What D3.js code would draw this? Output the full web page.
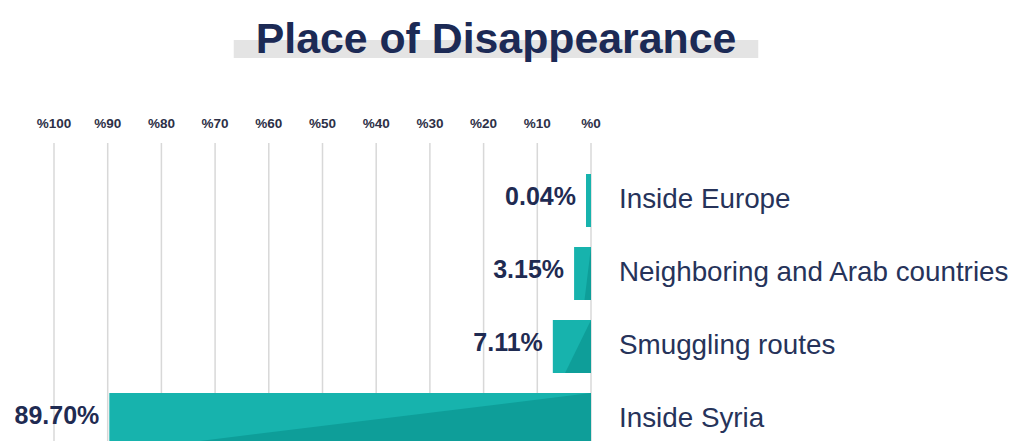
<!DOCTYPE html>
<html>
<head>
<meta charset="utf-8">
<script src="https://cdn.jsdelivr.net/npm/d3@7"></script>
<style>
  html, body { margin: 0; padding: 0; background: #ffffff; }
  svg { display: block; }
</style>
</head>
<body>
<svg id="chart" width="1015" height="441"></svg>
<script>
// Share of disappearances by place (percent)
const categories = ["Inside Europe", "Neighboring and Arab countries", "Smuggling routes", "Inside Syria"];
const shares = [0.04, 3.15, 7.11, 89.70];
const valueLabels = ["0.04%", "3.15%", "7.11%", "89.70%"];
const tickValues = [100, 90, 80, 70, 60, 50, 40, 30, 20, 10, 0];
const tickLabels = ["%100", "%90", "%80", "%70", "%60", "%50", "%40", "%30", "%20", "%10", "%0"];
const title = "Place of Disappearance";

const W = 1015, H = 441;
const navy = "#1c2a55";
const textNavy = "#26335a";
const tealLight = "#17b3ad";
const tealDark = "#0e9e99";
const font = "'Liberation Sans', Arial, Helvetica, sans-serif";

const svg = d3.select("#chart");

// Bars grow leftward from 0% on the right
const x = d3.scaleLinear().domain([0, 100]).range([591, 54]);
const y = d3.scaleBand().domain(categories).range([164, 456])
  .paddingInner(0.274).paddingOuter(0.137);

// Title with a grey highlight strip behind its lower half
const titleG = svg.append("g");
const titleText = titleG.append("text")
  .attr("x", 496).attr("y", 53)
  .attr("text-anchor", "middle")
  .attr("font-family", font).attr("font-weight", "bold")
  .attr("font-size", 42.8).attr("fill", navy)
  .text(title);
const tb = titleText.node().getBBox();
titleG.insert("rect", "text")
  .attr("x", tb.x - 22).attr("y", 40)
  .attr("width", tb.width + 44).attr("height", 18)
  .attr("fill", "#e4e4e4");

// Vertical gridlines
svg.append("g").selectAll("line").data(tickValues).join("line")
  .attr("x1", d => x(d)).attr("x2", d => x(d))
  .attr("y1", 143).attr("y2", H)
  .attr("stroke", "#d8d8d8").attr("stroke-width", 1.5);

// Tick labels along the top
svg.append("g").selectAll("text").data(tickValues).join("text")
  .attr("x", d => x(d)).attr("y", 128)
  .attr("text-anchor", "middle")
  .attr("font-family", font).attr("font-weight", "bold")
  .attr("font-size", 13.5).attr("fill", "#2d3047")
  .text((d, i) => tickLabels[i]);

// Bars: tiny shares get a minimum visible width
const minW = 5;
const rows = categories.map((c, i) => {
  const x1 = x(0);
  const x0 = Math.min(x(shares[i]), x1 - minW);
  return { c, v: shares[i], label: valueLabels[i], x0, x1, y0: y(c), y1: y(c) + y.bandwidth() };
});

const barG = svg.append("g");
barG.selectAll("rect").data(rows).join("rect")
  .attr("x", d => d.x0).attr("y", d => d.y0)
  .attr("width", d => d.x1 - d.x0).attr("height", y.bandwidth())
  .attr("fill", tealLight);

// Darker diagonal fold on each bar
barG.selectAll("path").data(rows).join("path")
  .attr("d", d => {
    const w = d.x1 - d.x0;
    const k = Math.min(w, 9 + 0.085 * w);
    return `M${d.x1},${d.y0}L${d.x1},${d.y1}L${d.x0 + k},${d.y1}Z`;
  })
  .attr("fill", tealDark);

// Value labels to the left of each bar
svg.append("g").selectAll("text").data(rows).join("text")
  .attr("x", d => d.x0 - 10)
  .attr("y", d => (d.y0 + d.y1) / 2 + 0.358 * 25 - 4)
  .attr("text-anchor", "end")
  .attr("font-family", font).attr("font-weight", "bold")
  .attr("font-size", 25).attr("fill", "#1f2b52")
  .text(d => d.label);

// Category labels to the right
svg.append("g").selectAll("text").data(rows).join("text")
  .attr("x", 619)
  .attr("y", d => (d.y0 + d.y1) / 2 + 0.358 * 27.8 - 2.5)
  .attr("font-family", font)
  .attr("font-size", 27.8).attr("fill", textNavy)
  .text(d => d.c);
</script>
</body>
</html>
